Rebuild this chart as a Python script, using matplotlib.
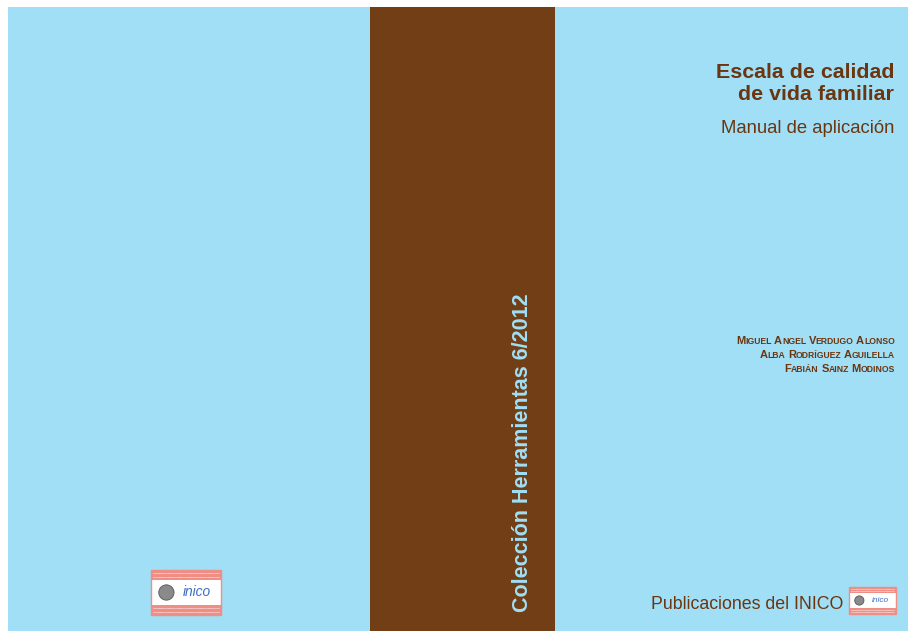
import matplotlib
matplotlib.use("Agg")
import matplotlib.pyplot as plt
from matplotlib.patches import Rectangle, Circle

# cover texts
title_lines = ["Escala de calidad", "de vida familiar"]
subtitle = "Manual de aplicación"
authors = ["Miguel Angel Verdugo Alonso",
           "Alba Rodríguez Aguilella",
           "Fabián Sainz Modinos"]
spine_text = "Colección Herramientas 6/2012"
publisher = "Publicaciones del INICO"

blue = "#A0DFF6"
brown = "#723E15"
text_brown = "#6B3510"
salmon = "#EE8E84"

W, H = 910, 632
fig = plt.figure(figsize=(W / 100, H / 100), dpi=100)
fig.patch.set_facecolor("white")
ax = fig.add_axes([0, 0, 1, 1])
ax.set_xlim(0, W)
ax.set_ylim(H, 0)
ax.axis("off")

# background panels
ax.add_patch(Rectangle((8, 7), 900, 624, color=blue, lw=0))
ax.add_patch(Rectangle((370, 7), 185, 624, color=brown, lw=0))

font = ["Liberation Sans", "DejaVu Sans"]

# titles
ax.text(894, 78, title_lines[0], ha="right", va="baseline", fontsize=15.4,
        fontweight="bold", color=text_brown, family=font)
ax.text(894, 100, title_lines[1], ha="right", va="baseline", fontsize=15.4,
        fontweight="bold", color=text_brown, family=font)
ax.text(894, 133, subtitle, ha="right", va="baseline", fontsize=13.3,
        color=text_brown, family=font)

# authors in small caps, right aligned
renderer = fig.canvas.get_renderer()


def width_of(s, size):
    t = ax.text(0, 0, s, fontsize=size, fontweight="bold", family=font)
    w = t.get_window_extent(renderer).width
    t.remove()
    return w


big, small = 8.0, 6.2
for i, name in enumerate(authors):
    pieces = []
    for j, word in enumerate(name.split()):
        if j > 0:
            pieces.append((" ", small))
        pieces.append((word[0].upper(), big))
        pieces.append((word[1:].upper(), small))
    widths = [width_of(p, s) for p, s in pieces]
    x = 895 - sum(widths)
    y = 344 + i * 14
    for (p, s), w in zip(pieces, widths):
        ax.text(x, y, p, fontsize=s, fontweight="bold", color=text_brown,
                family=font, va="baseline", ha="left")
        x += w

# spine
ax.text(523, 612, spine_text, rotation=90, ha="center", va="bottom",
        fontsize=15.5, fontweight="bold", color=blue, family=font)

# publisher
ax.text(843, 609, publisher, ha="right", va="baseline", fontsize=12.8,
        color=text_brown, family=font)


def logo(x0, y0, w, h):
    band = h * 0.22
    ax.add_patch(Rectangle((x0, y0), w, h, facecolor="white",
                           edgecolor=salmon, lw=1))
    ax.add_patch(Rectangle((x0, y0), w, band, color=salmon, lw=0))
    ax.add_patch(Rectangle((x0, y0 + h - band), w, band, color=salmon, lw=0))
    for k in range(2):
        yy = y0 + band * (0.3 + 0.4 * k)
        ax.plot([x0 + 2, x0 + w - 2], [yy, yy], color="white", lw=0.5,
                ls=(0, (1, 0.6)))
        yy = y0 + h - band * (0.7 - 0.4 * k)
        ax.plot([x0 + 2, x0 + w - 2], [yy, yy], color="white", lw=0.5,
                ls=(0, (1, 0.6)))
    cy = y0 + h / 2
    ax.add_patch(Circle((x0 + w * 0.22, cy), h * 0.17, facecolor="#8a8a8a",
                        edgecolor="#555555", lw=0.6))
    ax.text(x0 + w * 0.66, cy, "inico", ha="center", va="center",
            fontsize=h * 0.22, color="#3D6FC4", family=font, style="italic")


logo(151, 570, 70, 45)
logo(849, 587, 47, 27)

fig.savefig("out.png", dpi=100, facecolor="white")
